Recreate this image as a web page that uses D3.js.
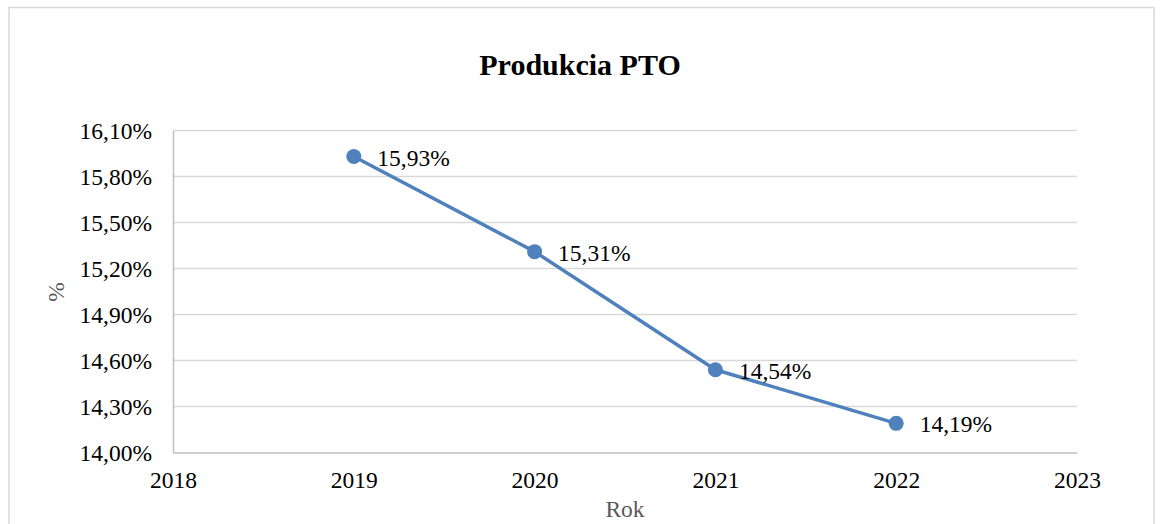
<!DOCTYPE html>
<html><head><meta charset="utf-8">
<script src="https://cdn.jsdelivr.net/npm/d3@7"></script>
<style>
html,body{margin:0;padding:0;background:#fff;}
svg{display:block;}
svg text{font-family:"Times New Roman","Liberation Serif",Tinos,"DejaVu Serif",serif !important;}
</style></head>
<body>
<svg id="chart" width="1160" height="524"></svg>
<script>
const title = "Produkcia PTO";
const years = [2019, 2020, 2021, 2022];
const values = [15.93, 15.31, 14.54, 14.19];
const labels = ["15,93%", "15,31%", "14,54%", "14,19%"];
const xTicks = [2018, 2019, 2020, 2021, 2022, 2023];
const yTicks = [14.0, 14.3, 14.6, 14.9, 15.2, 15.5, 15.8, 16.1];
const yTickLabels = ["14,00%", "14,30%", "14,60%", "14,90%", "15,20%", "15,50%", "15,80%", "16,10%"];
const xTitle = "Rok";
const yTitle = "%";

const svg = d3.select("#chart");
const m = {left:173, right:1077, top:130.5, bottom:452.5};
const FONT = '"Times New Roman","Liberation Serif",serif';
const FS = 23.5;

// outer border
svg.append("rect").attr("x",9).attr("y",7.5).attr("width",1145).attr("height",530)
  .attr("fill","#fff").attr("stroke","#d9d9d9").attr("stroke-width",1.5);

const x = d3.scaleLinear().domain([2018, 2023]).range([m.left, m.right]);
const y = d3.scaleLinear().domain([14.0, 16.1]).range([m.bottom, m.top]);

// gridlines
const grid = svg.append("g");
grid.selectAll("line").data(yTicks.slice(1)).join("line")
  .attr("x1", m.left).attr("x2", m.right)
  .attr("y1", d => y(d)).attr("y2", d => y(d))
  .attr("stroke", "#d9d9d9").attr("stroke-width", 1.5);

// y axis
const yAxis = d3.axisLeft(y).tickValues(yTicks).tickSize(0).tickPadding(21)
  .tickFormat((d,i) => yTickLabels[i]);
const gy = svg.append("g").attr("transform", `translate(${m.left},0)`).call(yAxis)
  .attr("font-family", FONT);
gy.select(".domain").attr("stroke", "#bfbfbf").attr("stroke-width", 1.5);
gy.selectAll("text").attr("font-size", FS).attr("fill", "#000").attr("dy", "0.36em");

// x axis
const xAxis = d3.axisBottom(x).tickValues(xTicks).tickSize(0).tickPadding(35.5)
  .tickFormat(d3.format("d"));
const gx = svg.append("g").attr("transform", `translate(0,${m.bottom})`).call(xAxis)
  .attr("font-family", FONT);
gx.select(".domain").attr("stroke", "#bfbfbf").attr("stroke-width", 1.5);
gx.selectAll("text").attr("font-size", FS).attr("fill", "#000").attr("dy", "0");

// line
const data = years.map((yr, i) => ({yr, v: values[i], lab: labels[i]}));
svg.append("path").datum(data)
  .attr("fill", "none").attr("stroke", "#4f81bd").attr("stroke-width", 3.5)
  .attr("stroke-linejoin", "round")
  .attr("d", d3.line().x(d => x(d.yr)).y(d => y(d.v)));

svg.selectAll("circle.pt").data(data).join("circle").attr("class","pt")
  .attr("cx", d => x(d.yr)).attr("cy", d => y(d.v)).attr("r", 7.5)
  .attr("fill", "#4f81bd");

svg.selectAll("text.lbl").data(data).join("text").attr("class","lbl")
  .attr("x", d => x(d.yr) + 23.5).attr("y", d => y(d.v) + 9)
  .attr("font-size", FS).attr("fill", "#000").text(d => d.lab);

// title
svg.append("text").attr("x", 580).attr("y", 75).attr("text-anchor", "middle")
  .attr("font-size", 30).attr("font-weight", "bold").attr("fill", "#000").text(title);

// axis titles
svg.append("text").attr("x", (m.left + m.right)/2).attr("y", 517).attr("text-anchor", "middle")
  .attr("font-size", FS).attr("fill", "#595959").text(xTitle);
svg.append("text").attr("transform", "translate(64,292) rotate(-90)").attr("text-anchor", "middle")
  .attr("font-size", FS).attr("fill", "#595959").text(yTitle);
</script>
</body></html>
